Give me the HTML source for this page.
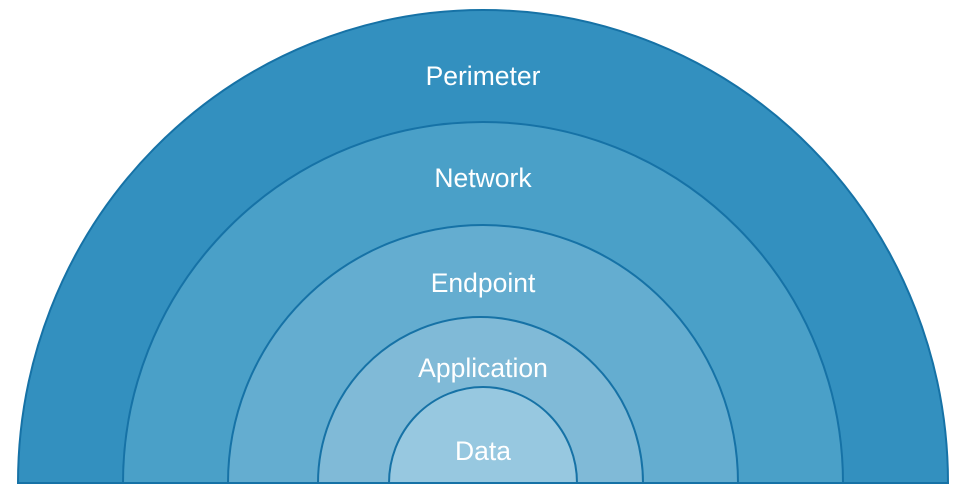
<!DOCTYPE html>
<html><head><meta charset="utf-8"><style>
html,body{margin:0;padding:0;background:#fff;width:960px;height:500px;overflow:hidden}
svg{display:block}
text{font-family:"Liberation Sans",Arial,sans-serif;font-size:26.5px;fill:#fff;text-anchor:middle}
</style></head><body>
<svg width="960" height="500" viewBox="0 0 960 500">
<g stroke="#1672a6" stroke-width="2">
<path d="M18,483 A465,473 0 0 1 948,483 Z" fill="#3390bf"/>
<path d="M123,483 A360,361 0 0 1 843,483 Z" fill="#4aa0c8"/>
<path d="M228,483 A255,258 0 0 1 738,483 Z" fill="#64add0"/>
<path d="M318,483 A162.5,166 0 0 1 643,483 Z" fill="#80bad7"/>
<path d="M389,483 A94,96 0 0 1 577,483 Z" fill="#97c8e0"/>
</g>
<line x1="18" y1="483" x2="948" y2="483" stroke="#1672a6" stroke-width="2"/>
<text x="483" y="85">Perimeter</text>
<text x="483" y="187">Network</text>
<text x="483" y="292">Endpoint</text>
<text x="483" y="377">Application</text>
<text x="483" y="460">Data</text>
</svg>
</body></html>
